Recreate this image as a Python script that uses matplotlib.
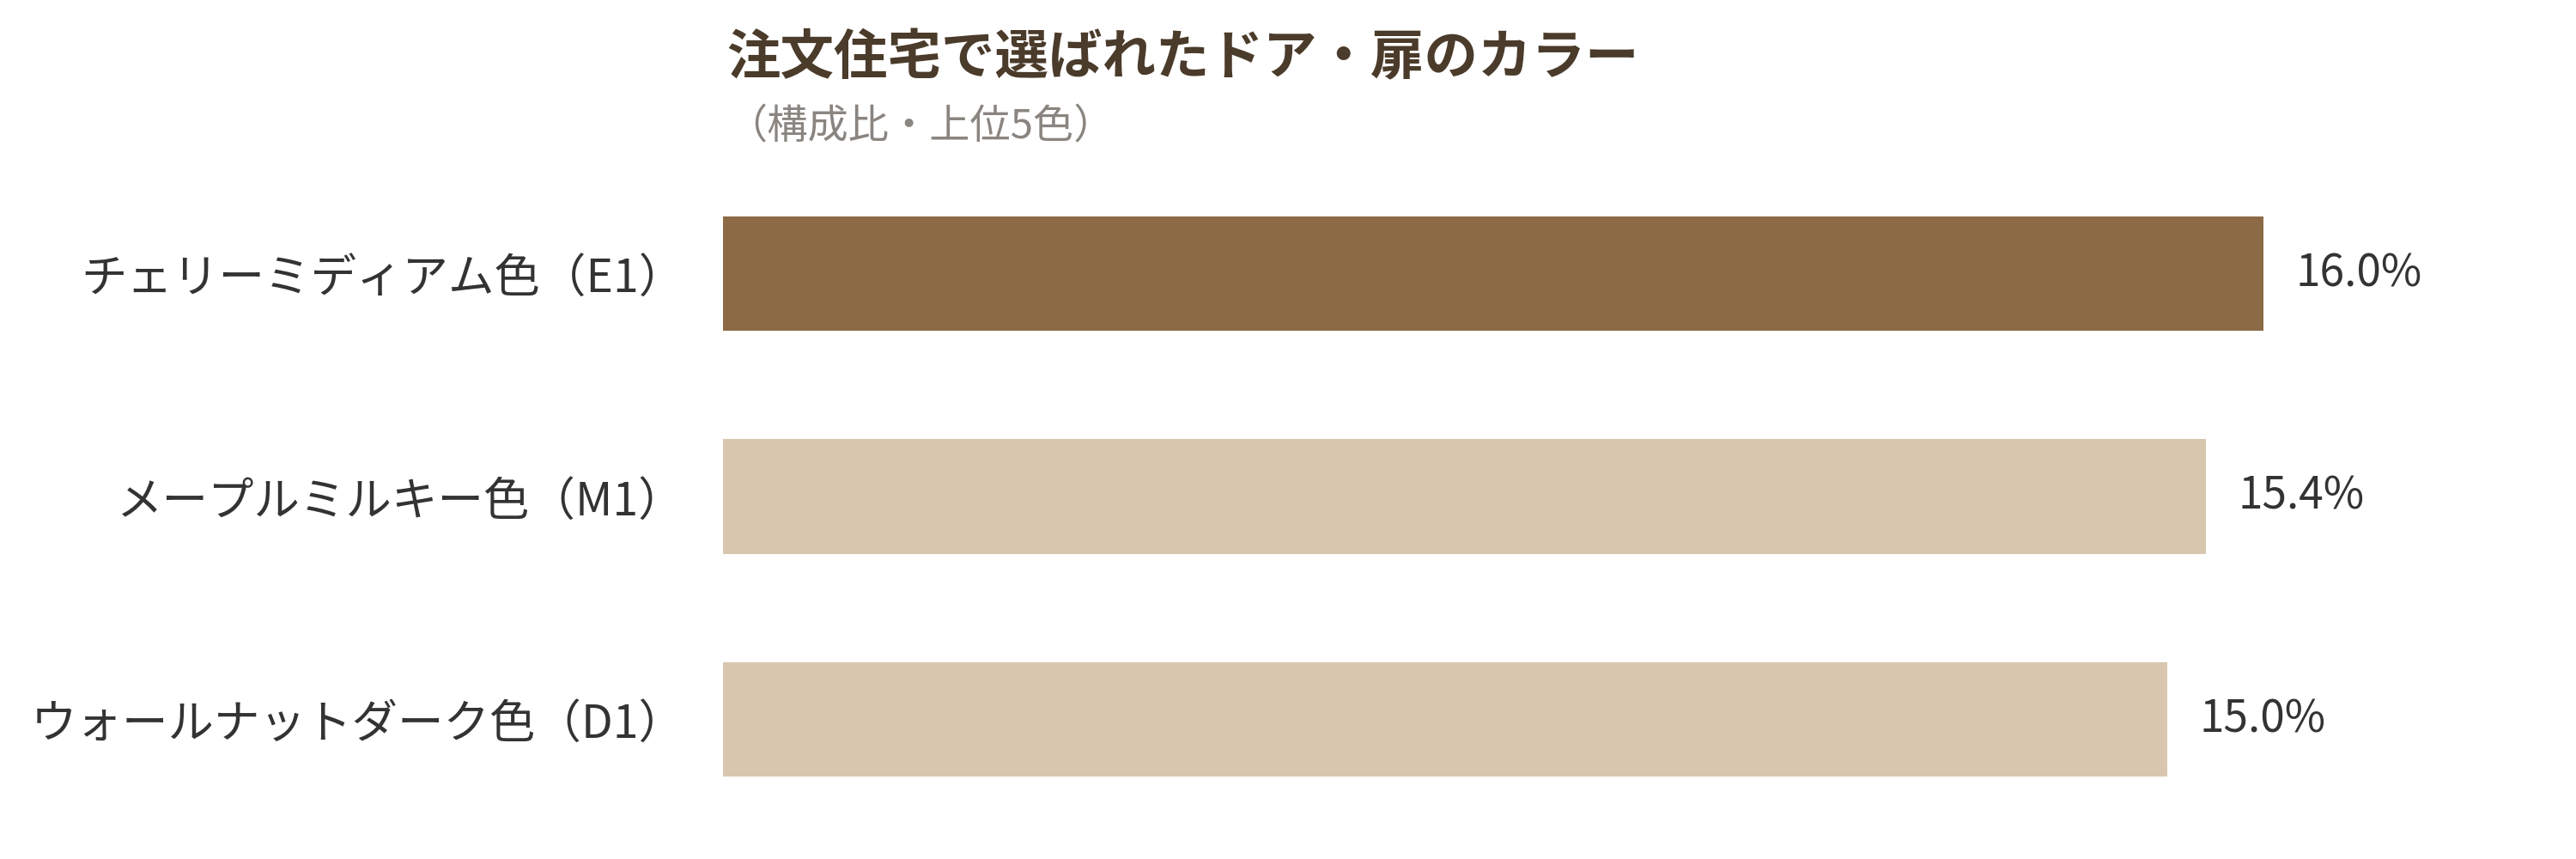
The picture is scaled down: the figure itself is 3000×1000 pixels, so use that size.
import matplotlib
matplotlib.use("Agg")
import matplotlib.pyplot as plt

plt.rcParams['font.family'] = ['Noto Sans CJK JP', 'DejaVu Sans']

# data
CATEGORIES = ["チェリーミディアム色（E1）", "メープルミルキー色（M1）", "ウォールナットダーク色（D1）"]
VALUES = [16.0, 15.4, 15.0]
BAR_COLORS = ["#8b6a45", "#d8c7ae", "#d8c7ae"]

TITLE = "注文住宅で選ばれたドア・扉のカラー"
SUBTITLE = "（構成比・上位5色）"

TEXT_COLOR = "#333333"

fig = plt.figure(figsize=(30, 10), dpi=100)
ax = fig.add_axes([842/3000, 0.03275, 2018/3000, 0.7785])

y = list(range(len(CATEGORIES)))
ax.barh(y, VALUES, height=0.513, color=BAR_COLORS)
ax.set_xlim(0, 18)
ax.set_ylim(2.5, -0.5)

ax.set_yticks(y)
ax.set_yticklabels(CATEGORIES, fontsize=38.5, color=TEXT_COLOR)
ax.tick_params(axis="y", length=0, pad=32)
ax.set_xticks([])
for s in ax.spines.values():
    s.set_visible(False)

for yi, v in zip(y, VALUES):
    ax.annotate(f"{v:.1f}%", xy=(v, yi), xytext=(27, 0), textcoords="offset points",
                ha="left", va="center", fontsize=37, color=TEXT_COLOR)

fig.text(846/3000, 1 - 68/1000, TITLE, fontsize=45, fontweight="bold",
         color="#4b3b2a", ha="left", va="center")
fig.text(846/3000, 1 - 147/1000, SUBTITLE, fontsize=34, color="#8a8580",
         ha="left", va="center")

fig.savefig("out.png", dpi=100, facecolor="white")
